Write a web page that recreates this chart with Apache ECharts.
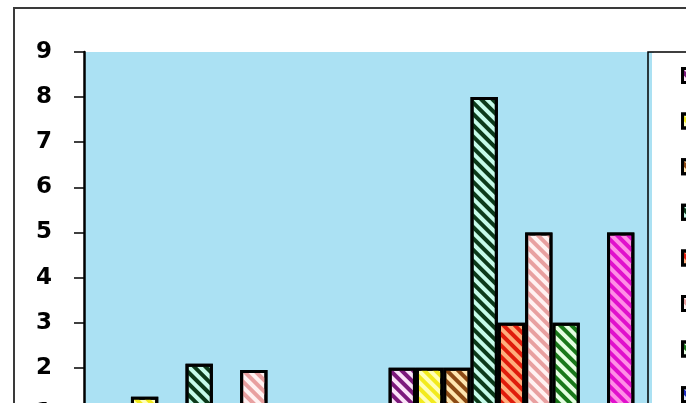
<!DOCTYPE html>
<html>
<head>
<meta charset="utf-8">
<script src="https://cdn.jsdelivr.net/npm/echarts@6/dist/echarts.min.js"></script>
<style>
  html, body { margin: 0; padding: 0; background: #fff; }
  #main { width: 696px; height: 403px; }
</style>
</head>
<body>
<div id="main"></div>
<script>
var chart = echarts.init(document.getElementById('main'));

// data
var categories = ['A', 'B'];
var seriesNames = ['S1', 'S2', 'S3', 'S4', 'S5', 'S6', 'S7', 'S8', 'S9'];
var s1 = [0, 2];
var s2 = [1.36, 2];
var s3 = [0, 2];
var s4 = [2.09, 8];
var s5 = [0, 3];
var s6 = [1.95, 5];
var s7 = [0, 3];
var s8 = [0, 0];
var s9 = [0, 5];
var yTicks = [0, 1, 2, 3, 4, 5, 6, 7, 8, 9];

// fill (light) and stripe (dark) colours per series
var fillColors = ['#fbe4f8', '#ffffb8', '#ffe6b0', '#c6fbea', '#ffae7c', '#fff2f2', '#e6ffe2', '#dde4ff', '#ff8ee6'];
var stripeColors = ['#7c1a7c', '#f2ea1c', '#8c4a14', '#0c3a1a', '#e01c0c', '#e8a0a0', '#1a781a', '#1c2cc0', '#e010cc'];

var allData = [s1, s2, s3, s4, s5, s6, s7, s8, s9];

var series = allData.map(function (d, i) {
    return {
        name: seriesNames[i],
        type: 'bar',
        data: d,
        barWidth: 27.3,
        barGap: '0%',
        itemStyle: {
            color: fillColors[i],
            borderColor: '#000',
            borderWidth: 3,
            decal: {
                symbol: 'rect',
                symbolSize: 1,
                color: stripeColors[i],
                dashArrayX: [1, 0],
                dashArrayY: [4, 4],
                rotation: Math.PI / 4
            }
        }
    };
});

var option = {
    backgroundColor: '#fff',
    animation: false,
    grid: {
        left: 84,
        top: 52,
        width: 570,
        height: 406,
        outerBoundsMode: 'none',
        containLabel: false,
        show: true,
        backgroundColor: '#abe1f3',
        borderWidth: 0
    },
    legend: {
        orient: 'vertical',
        left: 681,
        top: 67,
        height: 420,
        padding: 0,
        itemWidth: 14,
        itemHeight: 14,
        itemGap: 28.6,
        icon: 'rect',
        itemStyle: { borderColor: '#000', borderWidth: 3 },
        textStyle: { fontSize: 8, lineHeight: 8, color: '#000' },
        data: seriesNames
    },
    xAxis: {
        type: 'category',
        data: categories,
        axisLine: { lineStyle: { color: '#000', width: 2 } },
        axisTick: { show: false },
        axisLabel: { show: false }
    },
    yAxis: {
        type: 'value',
        min: yTicks[0],
        max: yTicks[yTicks.length - 1],
        interval: 1,
        splitLine: { show: false },
        axisLine: { show: true, lineStyle: { color: '#000', width: 2.5 } },
        axisTick: { show: true, length: 10, lineStyle: { color: '#000', width: 1.5 } },
        axisLabel: {
            margin: 32,
            color: '#000',
            fontFamily: 'DejaVu Sans',
            fontWeight: 'bold',
            fontSize: 23
        }
    },
    graphic: [
        // outer chart border (cropped on the right and bottom)
        { type: 'polyline', z: 100, silent: true,
          shape: { points: [[14, 420], [14, 8], [686, 8]] },
          style: { stroke: '#3a3a3a', lineWidth: 2, fill: null } },
        // white strip at the right side of the legend box
        { type: 'rect', z: 99, silent: true,
          shape: { x: 652, y: 53, width: 8, height: 360 },
          style: { fill: '#fff' } },
        // legend box
        { type: 'polyline', z: 100, silent: true,
          shape: { points: [[648, 420], [648, 52], [686, 52]] },
          style: { stroke: '#000', lineWidth: 1.5, fill: null } },
        // cropped edge of the original picture
        { type: 'rect', z: 200, silent: true,
          shape: { x: 686, y: 0, width: 10, height: 403 },
          style: { fill: '#fff' } }
    ],
    series: series
};

chart.setOption(option);
</script>
</body>
</html>
